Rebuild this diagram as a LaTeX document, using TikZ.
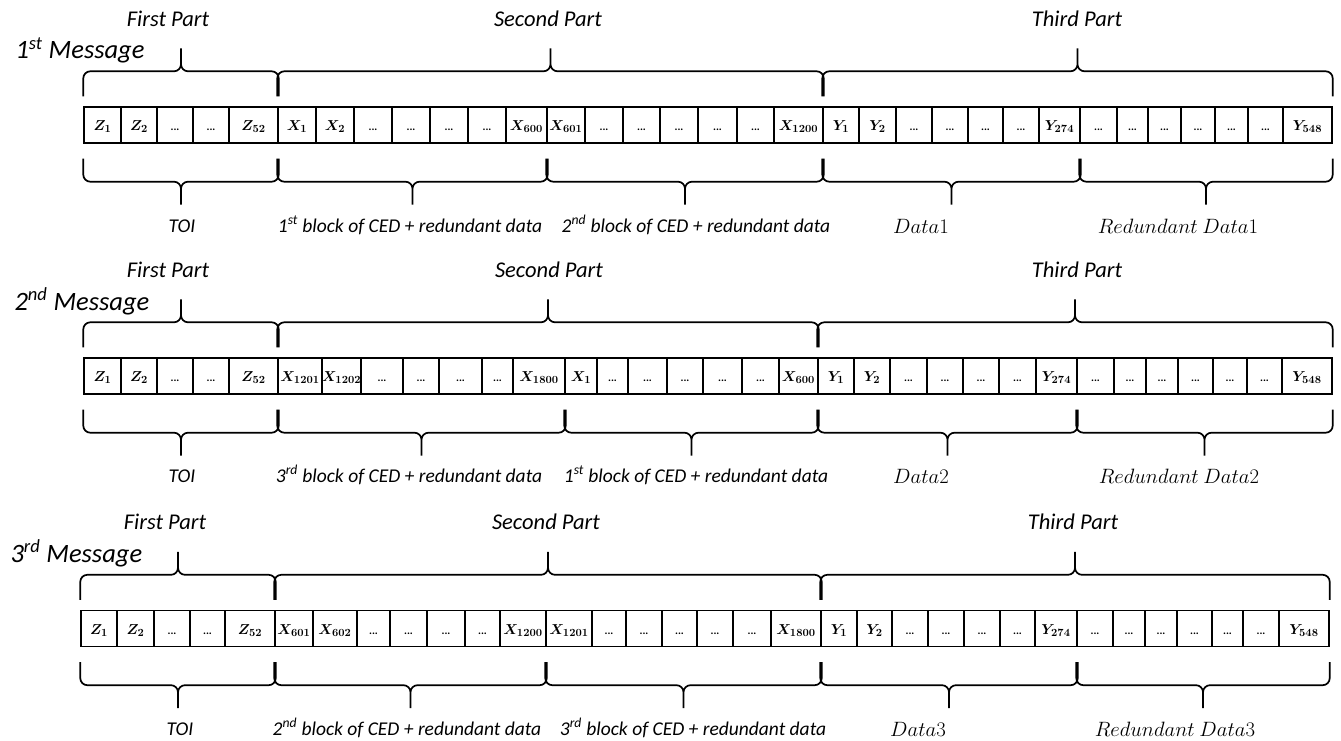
\documentclass[tikz,border=0pt]{standalone}
\usepackage[no-math]{fontspec}
\setmainfont{Carlito}
\usepackage{tikz}
\usetikzlibrary{calc}
\newcommand{\dd}{{\fontsize{11}{11}\selectfont\bfseries...}}
% brace over the cells #1 .. #2 (above the row)
\newcommand{\partbrace}[2]{%
  \coordinate (tip) at ($(#1.north west)!.5!(#2.north east)$);
  \draw[brace] ($(#1.north west)+(0,-10)$) |- ($(tip)+(0,-35)$) -- ($(tip)+(0,-58)$)
    ($(#2.north east)+(0,-10)$) |- ($(tip)+(0,-35)$) -- ($(tip)+(0,-58)$);}
% brace under the cells #1 .. #2
\newcommand{\fieldbrace}[2]{%
  \coordinate (tip) at ($(#1.south west)!.5!(#2.south east)$);
  \draw[brace] ($(#1.south west)+(0,15)$) |- ($(tip)+(0,38)$) -- ($(tip)+(0,61)$)
    ($(#2.south east)+(0,15)$) |- ($(tip)+(0,38)$) -- ($(tip)+(0,61)$);}

\begin{document}
\begin{tikzpicture}[x=1pt,y=-1pt,
  cell/.style={draw,line width=1.4pt,inner sep=0pt,minimum height=36pt,text height=12pt,text depth=1pt,font=\fontsize{15}{17}\selectfont\boldmath},
  brace/.style={line width=1.7pt,rounded corners=7pt},
  part/.style={anchor=base,font=\fontsize{22.5}{26}\selectfont\itshape},
  msg/.style={anchor=base west,font=\fontsize{26.5}{30}\selectfont\itshape},
  note/.style={anchor=base,font=\fontsize{19.5}{23}\selectfont\itshape},
  eq/.style={anchor=base,font=\fontsize{21}{24}\selectfont}]
\useasboundingbox (0,0) rectangle (1341,741);

% 1st message
\foreach \xa/\xb/\txt [count=\i] in {84/121/{$Z_1$},121/157/{$Z_2$},157/193/\dd,193/229/\dd,229/278/{$Z_{52}$},
  278/316/{$X_1$},316/354/{$X_2$},354/392/\dd,392/430/\dd,430/468/\dd,468/506/\dd,506/547/{$X_{600}$},
  547/585/{$X_{601}$},585/623/\dd,623/660/\dd,660/698/\dd,698/737/\dd,737/774/\dd,774/823/{$X_{1200}$},
  823/859/{$Y_1$},859/896/{$Y_2$},896/932/\dd,932/968/\dd,968/1003/\dd,1003/1039/\dd,1039/1080/{$Y_{274}$},
  1080/1117/\dd,1117/1148/\dd,1148/1181/\dd,1181/1215/\dd,1215/1248/\dd,1248/1283/\dd,1283/1332/{$Y_{548}$}}
  \node[cell,minimum width={(\xb-\xa)*1pt}] (m1c\i) at ({(\xa+\xb)/2},125) {\txt};
\node[msg] (msg1) at (12,59) {1\textsuperscript{st} Message};
\partbrace{m1c1}{m1c5}
\partbrace{m1c6}{m1c19}
\partbrace{m1c20}{m1c33}
\node[part] (p1a) at (168,27) {First Part};
\node[part] (p1b) at (548,27) {Second Part};
\node[part] (p1c) at (1077,27) {Third Part};
\fieldbrace{m1c1}{m1c5}
\fieldbrace{m1c6}{m1c12}
\fieldbrace{m1c13}{m1c19}
\fieldbrace{m1c20}{m1c26}
\fieldbrace{m1c27}{m1c33}
\node[note] (f1a) at (182,232) {TOI};
\node[note] (f1b) at (410,232) {1\textsuperscript{st} block of CED + redundant data};
\node[note] (f1c) at (696,232) {2\textsuperscript{nd} block of CED + redundant data};
\node[eq] (f1d) at (921,233) {$Data1$};
\node[eq] (f1e) at (1178,233) {$Redundant\ Data1$};

% 2nd message
\foreach \xa/\xb/\txt [count=\i] in {84/121/{$Z_1$},121/157/{$Z_2$},157/193/\dd,193/229/\dd,229/278/{$Z_{52}$},
  278/322/{$X_{1201}$},322/361/{$X_{1202}$},361/403/\dd,403/439/\dd,439/482/\dd,482/513/\dd,513/565/{$X_{1800}$},
  565/597/{$X_1$},597/628/\dd,628/667/\dd,667/703/\dd,703/742/\dd,742/779/\dd,779/818/{$X_{600}$},
  818/854/{$Y_1$},854/890/{$Y_2$},890/927/\dd,927/963/\dd,963/999/\dd,999/1036/\dd,1036/1077/{$Y_{274}$},
  1077/1114/\dd,1114/1146/\dd,1146/1178/\dd,1178/1213/\dd,1213/1247/\dd,1247/1282/\dd,1282/1332/{$Y_{548}$}}
  \node[cell,minimum width={(\xb-\xa)*1pt}] (m2c\i) at ({(\xa+\xb)/2},376) {\txt};
\node[msg] (msg2) at (11,310) {2\textsuperscript{nd} Message};
\partbrace{m2c1}{m2c5}
\partbrace{m2c6}{m2c19}
\partbrace{m2c20}{m2c33}
\node[part] (p2a) at (168,277) {First Part};
\node[part] (p2b) at (549,277) {Second Part};
\node[part] (p2c) at (1077,277) {Third Part};
\fieldbrace{m2c1}{m2c5}
\fieldbrace{m2c6}{m2c12}
\fieldbrace{m2c13}{m2c19}
\fieldbrace{m2c20}{m2c26}
\fieldbrace{m2c27}{m2c33}
\node[note] (f2a) at (182,482) {TOI};
\node[note] (f2b) at (409,482) {3\textsuperscript{rd} block of CED + redundant data};
\node[note] (f2c) at (696,482) {1\textsuperscript{st} block of CED + redundant data};
\node[eq] (f2d) at (921,483) {$Data2$};
\node[eq] (f2e) at (1179,483) {$Redundant\ Data2$};

% 3rd message
\foreach \xa/\xb/\txt [count=\i] in {81/117/{$Z_1$},117/154/{$Z_2$},154/190/\dd,190/225/\dd,225/275/{$Z_{52}$},
  275/313/{$X_{601}$},313/357/{$X_{602}$},357/390/\dd,390/427/\dd,427/465/\dd,465/500/\dd,500/546/{$X_{1200}$},
  546/592/{$X_{1201}$},592/626/\dd,626/662/\dd,662/697/\dd,697/733/\dd,733/771/\dd,771/821/{$X_{1800}$},
  821/857/{$Y_1$},857/892/{$Y_2$},892/928/\dd,928/964/\dd,964/1000/\dd,1000/1035/\dd,1035/1077/{$Y_{274}$},
  1077/1113/\dd,1113/1145/\dd,1145/1177/\dd,1177/1212/\dd,1212/1243/\dd,1243/1279/\dd,1279/1329/{$Y_{548}$}}
  \node[cell,minimum width={(\xb-\xa)*1pt}] (m3c\i) at ({(\xa+\xb)/2},628.5) {\txt};
\node[msg] (msg3) at (7,562) {3\textsuperscript{rd} Message};
\partbrace{m3c1}{m3c5}
\partbrace{m3c6}{m3c19}
\partbrace{m3c20}{m3c33}
\node[part] (p3a) at (165,529) {First Part};
\node[part] (p3b) at (546,529) {Second Part};
\node[part] (p3c) at (1073,529) {Third Part};
\fieldbrace{m3c1}{m3c5}
\fieldbrace{m3c6}{m3c12}
\fieldbrace{m3c13}{m3c19}
\fieldbrace{m3c20}{m3c26}
\fieldbrace{m3c27}{m3c33}
\node[note] (f3a) at (180,735) {TOI};
\node[note] (f3b) at (407,735) {2\textsuperscript{nd} block of CED + redundant data};
\node[note] (f3c) at (693,735) {3\textsuperscript{rd} block of CED + redundant data};
\node[eq] (f3d) at (918,736) {$Data3$};
\node[eq] (f3e) at (1175,736) {$Redundant\ Data3$};
\end{tikzpicture}
\end{document}
